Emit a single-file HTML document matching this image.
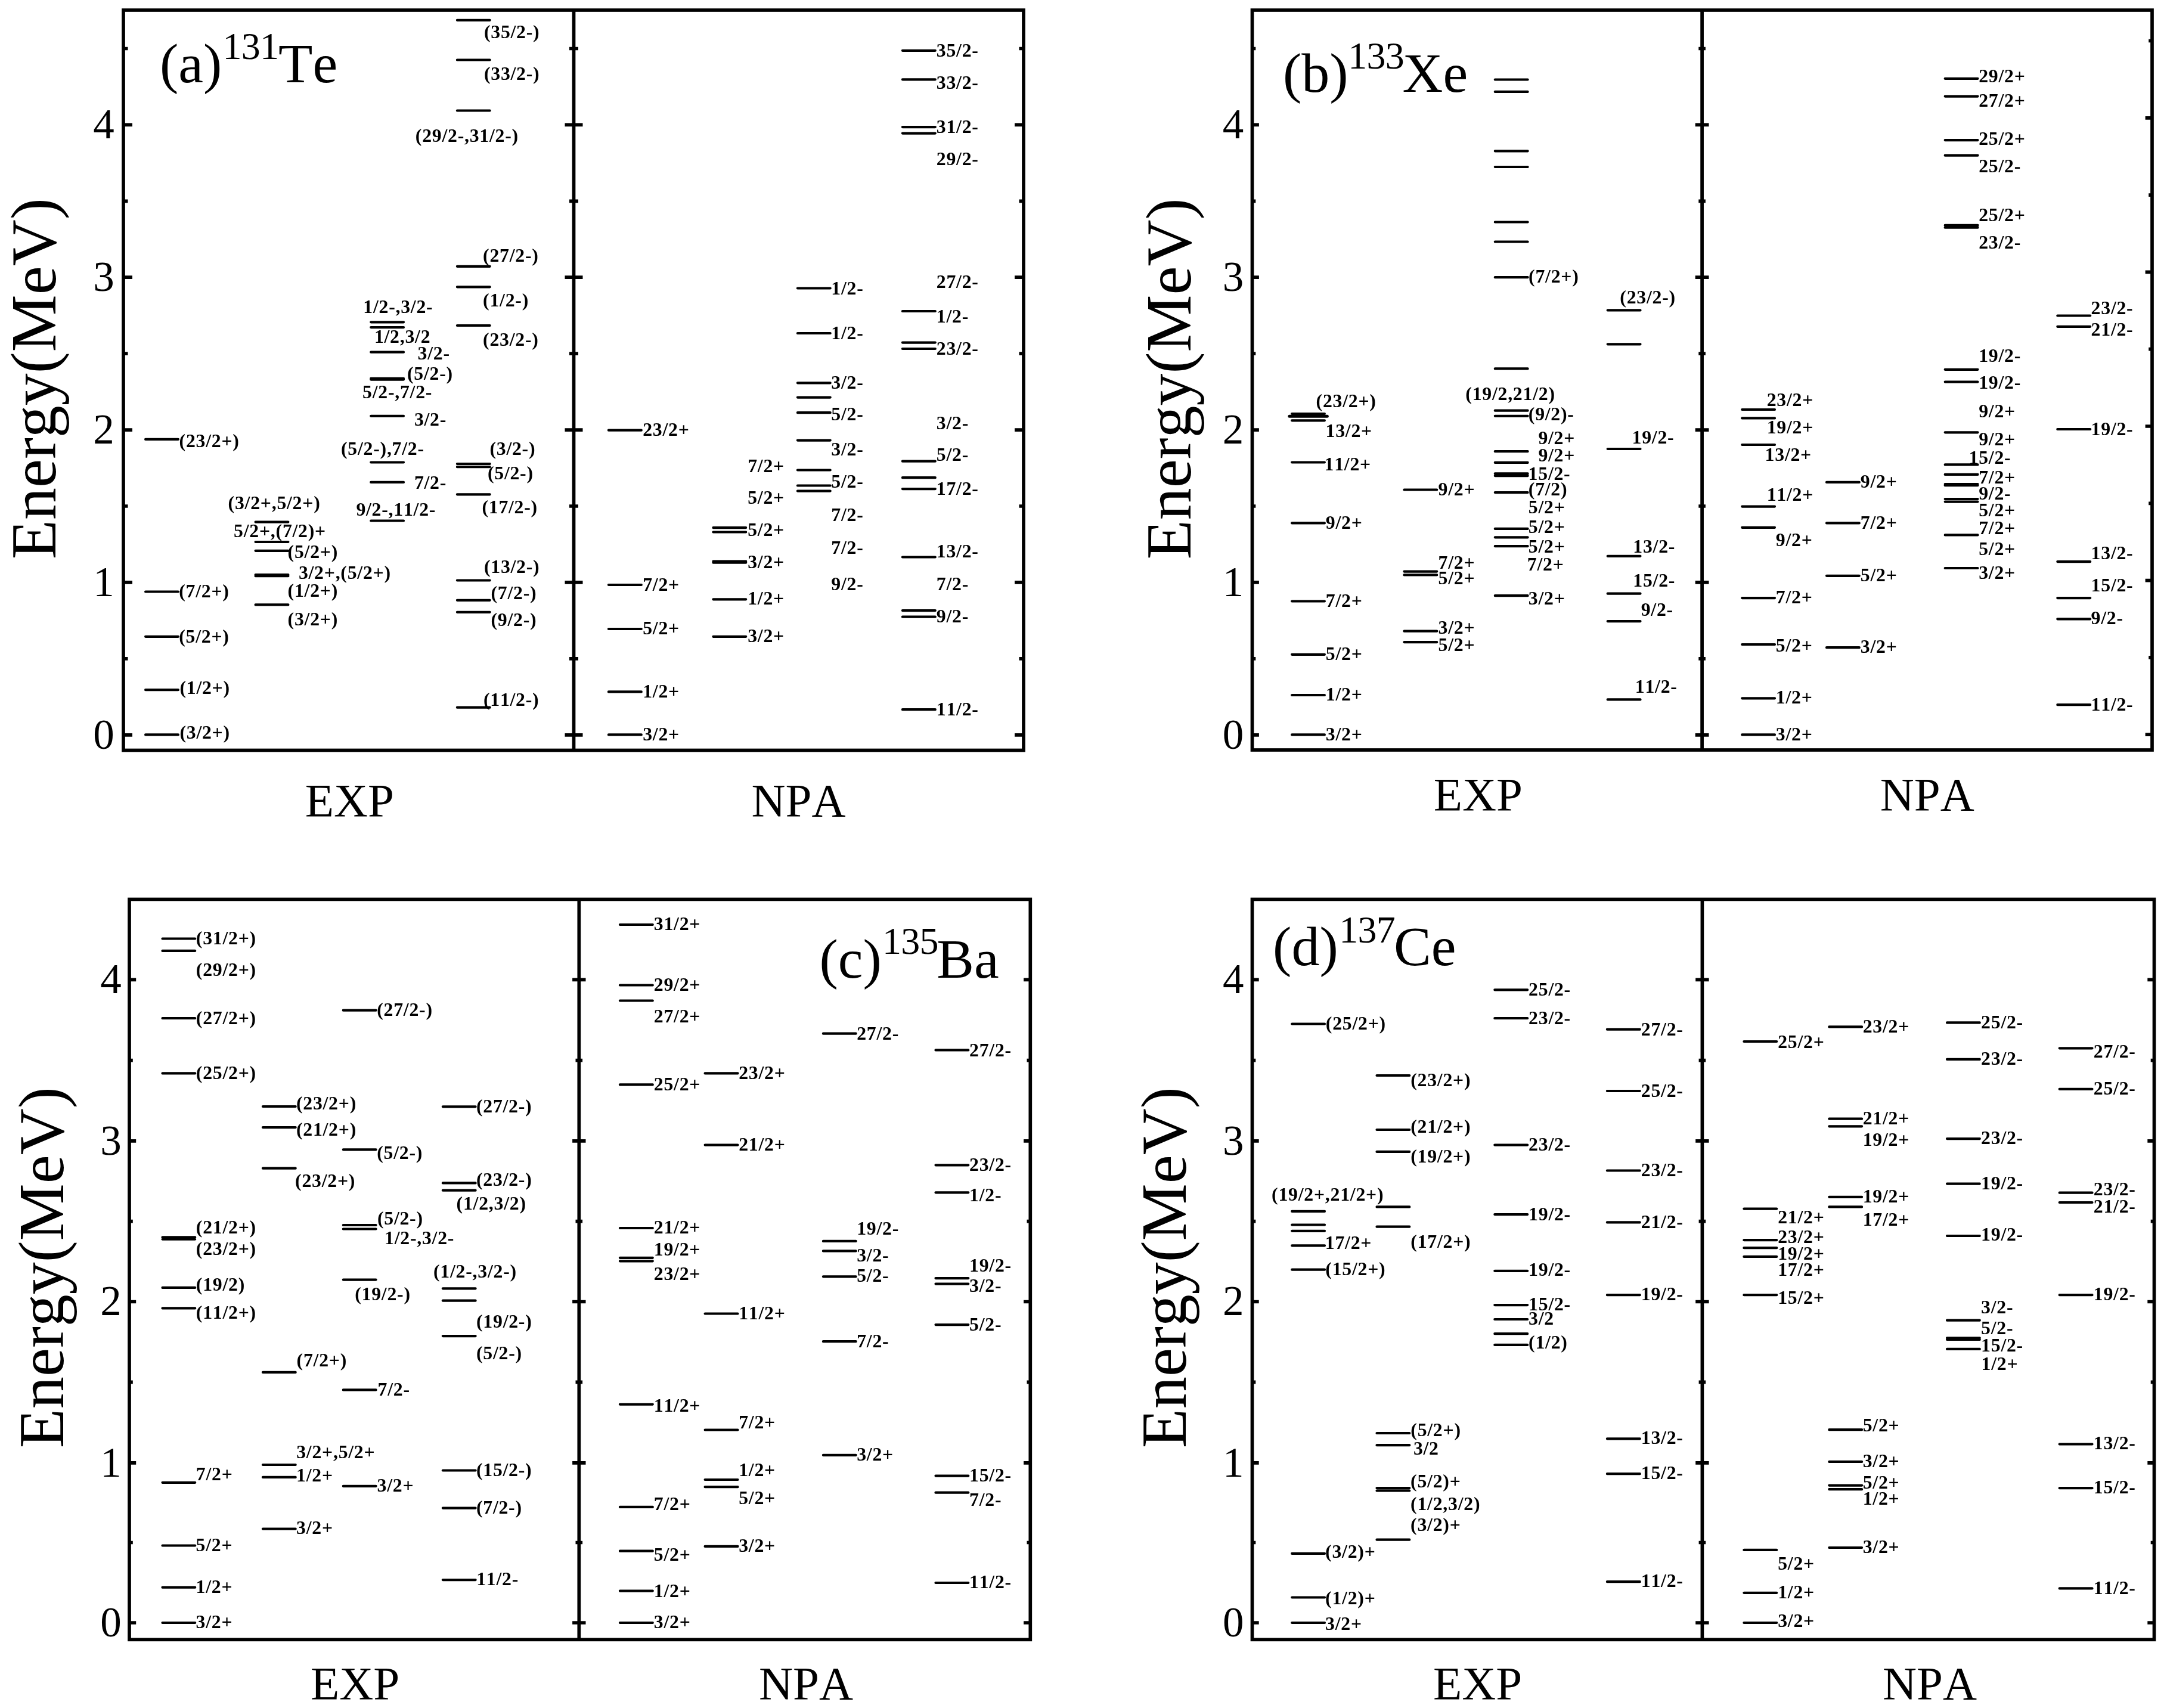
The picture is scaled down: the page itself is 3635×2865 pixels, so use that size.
<!DOCTYPE html>
<html><head><meta charset="utf-8"><title>Energy levels</title>
<style>
html,body{margin:0;padding:0;background:#fff}
svg{display:block}
text{font-family:"Liberation Serif",serif;fill:#000;font-kerning:none;font-variant-ligatures:none}
.fr rect,.fr path{fill:none;stroke:#000;stroke-width:5.7}
.lv{fill:none;stroke:#000;stroke-width:4.2;stroke-linecap:round}
.tl text{font-size:71px;text-anchor:middle}
.lb text{font-size:31.8px;font-weight:bold;letter-spacing:.75px}
.ax text{font-size:79px}
.tt{font-size:94px}
.sp{font-size:64px;letter-spacing:-.8px}
.yl{font-size:108px}
</style></head>
<body>
<svg width="3635" height="2865" viewBox="0 0 3635 2865" style="will-change:transform">
<rect x="0" y="0" width="3635" height="2865" fill="#fff"/>
<g class="fr">
<rect x="207" y="17" width="1510" height="1241.5"/>
<path d="M962.5 17V1258.5"/>
<path d="M207 1232.8h15M947.5 1232.8h30M207 1104.9h7.5M955 1104.9h15M207 976.9h15M947.5 976.9h30M207 849h7.5M955 849h15M207 721.1h15M947.5 721.1h30M207 593.2h7.5M955 593.2h15M207 465.2h15M947.5 465.2h30M207 337.3h7.5M955 337.3h15M207 209.4h15M947.5 209.4h30M207 81.5h7.5M955 81.5h15M1717 1232.8h-15M1717 1104.9h-7.5M1717 976.9h-15M1717 849h-7.5M1717 721.1h-15M1717 593.2h-7.5M1717 465.2h-15M1717 337.3h-7.5M1717 209.4h-15M1717 81.5h-7.5"/>
</g>
<g class="tl">
<text x="174" y="1255.5">0</text>
<text x="174" y="999.6">1</text>
<text x="174" y="743.8">2</text>
<text x="174" y="487.9">3</text>
<text x="174" y="232.1">4</text>
</g>
<path class="lv" d="M244.1 736.9H298.9M244.1 992.5H298.9M244.1 1067.8H298.9M244.1 1157.2H298.9M244.1 1232.4H298.9M428.6 875.6H483.4M428.6 909H483.4M428.6 923.8H483.4M428.6 964.2H483.4M428.6 966.2H483.4M428.6 1014.4H483.4M622.2 540.3H677M622.2 549.1H677M622.2 590.7H677M622.2 634.9H677M622.2 636.6H677M622.2 697.8H677M622.2 775.5H677M622.2 808.9H677M622.2 873.5H677M766.9 33.8H821.7M766.9 100.5H821.7M766.9 185.5H821.7M766.9 446.8H821.7M766.9 481.3H821.7M766.9 546H821.7M766.9 778H821.7M766.9 783.2H821.7M766.9 829.3H821.7M766.9 973.5H821.7M766.9 1006.8H821.7M766.9 1026.8H821.7M766.9 1186.7H821.7M1020.9 721.7H1075.8M1020.9 981H1075.8M1020.9 1055H1075.8M1020.9 1160.4H1075.8M1020.9 1232.4H1075.8M1196.4 885.1H1251.2M1196.4 892.5H1251.2M1196.4 941.5H1251.2M1196.4 943.7H1251.2M1196.4 1005.3H1251.2M1196.4 1067.8H1251.2M1337.9 483.5H1392.7M1337.9 559H1392.7M1337.9 642.3H1392.7M1337.9 666.6H1392.7M1337.9 692.2H1392.7M1337.9 738.6H1392.7M1337.9 788.5H1392.7M1337.9 814.5H1392.7M1337.9 823.6H1392.7M1513.9 84.8H1568.8M1513.9 133.3H1568.8M1513.9 213.1H1568.8M1513.9 223.6H1568.8M1513.9 522H1568.8M1513.9 574.6H1568.8M1513.9 585H1568.8M1513.9 773.7H1568.8M1513.9 801.2H1568.8M1513.9 820.1H1568.8M1513.9 934.5H1568.8M1513.9 1024.1H1568.8M1513.9 1034.7H1568.8M1513.9 1190.2H1568.8"/>
<g class="lb">
<text x="300.6" y="750">(23/2+)</text>
<text x="300.2" y="1002.3">(7/2+)</text>
<text x="300.2" y="1078">(5/2+)</text>
<text x="301.4" y="1164.2">(1/2+)</text>
<text x="301.4" y="1239.1">(3/2+)</text>
<text x="382.6" y="854.2">(3/2+,5/2+)</text>
<text x="392.1" y="900.9">5/2+,(7/2)+</text>
<text x="482.6" y="936">(5/2+)</text>
<text x="500.9" y="970.9">3/2+,(5/2+)</text>
<text x="482.6" y="1000.7">(1/2+)</text>
<text x="482.6" y="1048.5">(3/2+)</text>
<text x="609.3" y="525">1/2-,3/2-</text>
<text x="627.9" y="575">1/2,3/2</text>
<text x="700.5" y="603.4">3/2-</text>
<text x="683" y="637">(5/2-)</text>
<text x="608" y="668">5/2-,7/2-</text>
<text x="694.9" y="713.7">3/2-</text>
<text x="572" y="762.9">(5/2-),7/2-</text>
<text x="694.9" y="820.1">7/2-</text>
<text x="597.4" y="864.8">9/2-,11/2-</text>
<text x="811.9" y="63.8">(35/2-)</text>
<text x="811.9" y="133.9">(33/2-)</text>
<text x="696.8" y="238.4">(29/2-,31/2-)</text>
<text x="810.1" y="439.4">(27/2-)</text>
<text x="810.1" y="513.7">(1/2-)</text>
<text x="810.1" y="579.6">(23/2-)</text>
<text x="821.4" y="762.9">(3/2-)</text>
<text x="817.9" y="804">(5/2-)</text>
<text x="808.4" y="861.2">(17/2-)</text>
<text x="811.9" y="960.7">(13/2-)</text>
<text x="823.5" y="1005.3">(7/2-)</text>
<text x="823.5" y="1049.9">(9/2-)</text>
<text x="810.9" y="1183.9">(11/2-)</text>
<text x="1078.2" y="731.2">23/2+</text>
<text x="1078.2" y="990.5">7/2+</text>
<text x="1078.2" y="1063.8">5/2+</text>
<text x="1078.2" y="1169.5">1/2+</text>
<text x="1078.2" y="1241.5">3/2+</text>
<text x="1254.2" y="792">7/2+</text>
<text x="1254.2" y="845.4">5/2+</text>
<text x="1254.2" y="898.8">5/2+</text>
<text x="1254.2" y="952.6">3/2+</text>
<text x="1254.2" y="1014.1">1/2+</text>
<text x="1254.2" y="1076.6">3/2+</text>
<text x="1394.3" y="493.8">1/2-</text>
<text x="1394.3" y="568.6">1/2-</text>
<text x="1394.3" y="651.5">3/2-</text>
<text x="1394.3" y="704.9">5/2-</text>
<text x="1394.3" y="763.9">3/2-</text>
<text x="1394.3" y="818">5/2-</text>
<text x="1394.3" y="873.5">7/2-</text>
<text x="1394.3" y="928.7">7/2-</text>
<text x="1394.3" y="990">9/2-</text>
<text x="1570.8" y="95">35/2-</text>
<text x="1570.8" y="148.8">33/2-</text>
<text x="1570.8" y="222.6">31/2-</text>
<text x="1570.8" y="277">29/2-</text>
<text x="1570.8" y="483.3">27/2-</text>
<text x="1570.8" y="541">1/2-</text>
<text x="1570.8" y="594.6">23/2-</text>
<text x="1570.8" y="720">3/2-</text>
<text x="1570.8" y="772.7">5/2-</text>
<text x="1570.8" y="829.6">17/2-</text>
<text x="1570.8" y="935.4">13/2-</text>
<text x="1570.8" y="990">7/2-</text>
<text x="1570.8" y="1044.1">9/2-</text>
<text x="1570.8" y="1199.6">11/2-</text>
</g>
<g class="ax">
<text x="511.7" y="1369">EXP</text>
<text x="1260.4" y="1369">NPA</text>
</g>
<text class="tt" x="268" y="138.3">(a)</text>
<text class="sp" x="373.5" y="99">131</text>
<text class="tt" x="467" y="138.3">Te</text>
<text class="yl" transform="translate(93 938) rotate(-90)">Energy(MeV)</text>
<g class="fr">
<rect x="2100.5" y="17" width="1509.5" height="1241"/>
<path d="M2855.1 17V1258"/>
<path d="M2100.5 1232.8h11.4M2843.7 1232.8h22.8M2100.5 1104.9h5.8M2849.3 1104.9h11.6M2100.5 976.9h11.4M2843.7 976.9h22.8M2100.5 849h5.8M2849.3 849h11.6M2100.5 721.1h11.4M2843.7 721.1h22.8M2100.5 593.2h5.8M2849.3 593.2h11.6M2100.5 465.2h11.4M2843.7 465.2h22.8M2100.5 337.3h5.8M2849.3 337.3h11.6M2100.5 209.4h11.4M2843.7 209.4h22.8M2100.5 81.5h5.8M2849.3 81.5h11.6M3610 1232.2h-11.4M3610 1102.9h-5.8M3610 973.6h-11.4M3610 844.3h-5.8M3610 715h-11.4M3610 585.7h-5.8M3610 456.4h-11.4M3610 327.1h-5.8M3610 197.8h-11.4M3610 68.5h-5.8"/>
</g>
<g class="tl">
<text x="2068.6" y="1255.5">0</text>
<text x="2068.6" y="999.6">1</text>
<text x="2068.6" y="743.8">2</text>
<text x="2068.6" y="487.9">3</text>
<text x="2068.6" y="232.1">4</text>
</g>
<path class="lv" d="M2167.1 694H2221.9M2167.1 705.3H2221.9M2167.1 775.5H2221.9M2167.1 877.4H2221.9M2167.1 1008.5H2221.9M2167.1 1097.8H2221.9M2167.1 1166H2221.9M2167.1 1232.4H2221.9M2355.4 821.5H2410.2M2355.4 958.6H2410.2M2355.4 964.4H2410.2M2355.4 1058.7H2410.2M2355.4 1077.2H2410.2M2507.8 133.5H2562.6M2507.8 153.9H2562.6M2507.8 253.3H2562.6M2507.8 280H2562.6M2507.8 372.5H2562.6M2507.8 405.5H2562.6M2507.8 465.2H2562.6M2507.8 618.4H2562.6M2507.8 688.7H2562.6M2507.8 697.8H2562.6M2507.8 757.2H2562.6M2507.8 775.9H2562.6M2507.8 794.4H2562.6M2507.8 798.1H2562.6M2507.8 826.1H2562.6M2507.8 886.9H2562.6M2507.8 901.3H2562.6M2507.8 916.2H2562.6M2507.8 999.2H2562.6M2696.7 520.4H2751.5M2696.7 577.3H2751.5M2696.7 753H2751.5M2696.7 932.8H2751.5M2696.7 995.7H2751.5M2696.7 1042.1H2751.5M2696.7 1173.4H2751.5M2922.2 687H2977M2922.2 701.4H2977M2922.2 746H2977M2922.2 849.6H2977M2922.2 884.8H2977M2922.2 1003.1H2977M2922.2 1081H2977M2922.2 1171.3H2977M2922.2 1232.4H2977M3064 808.9H3118.8M3064 877.4H3118.8M3064 965.8H3118.8M3064 1086.2H3118.8M3262.7 131.8H3317.5M3262.7 161.6H3317.5M3262.7 235.1H3317.5M3262.7 260.7H3317.5M3262.7 377.9H3317.5M3262.7 381.7H3317.5M3262.7 619.8H3317.5M3262.7 640.6H3317.5M3262.7 725.3H3317.5M3262.7 779.4H3317.5M3262.7 795.9H3317.5M3262.7 812H3317.5M3262.7 814.2H3317.5M3262.7 837H3317.5M3262.7 841.6H3317.5M3262.7 897.4H3317.5M3262.7 953H3317.5M3451.3 529.5H3506.2M3451.3 547.8H3506.2M3451.3 720H3506.2M3451.3 942.1H3506.2M3451.3 1003.1H3506.2M3451.3 1038.3H3506.2M3451.3 1182.2H3506.2"/>
<path class="lv" style="stroke-width:5" d="M2162.9 698.3H2226.3"/>
<g class="lb">
<text x="2207.6" y="683.3">(23/2+)</text>
<text x="2223.5" y="733.2">13/2+</text>
<text x="2221.5" y="788.7">11/2+</text>
<text x="2223.8" y="886.9">9/2+</text>
<text x="2223.8" y="1018">7/2+</text>
<text x="2223.8" y="1106.6">5/2+</text>
<text x="2223.8" y="1175.1">1/2+</text>
<text x="2223.8" y="1241.5">3/2+</text>
<text x="2412.6" y="830.7">9/2+</text>
<text x="2412.6" y="954">7/2+</text>
<text x="2412.6" y="980.4">5/2+</text>
<text x="2412.6" y="1062.5">3/2+</text>
<text x="2412.6" y="1091.5">5/2+</text>
<text x="2564.1" y="474.3">(7/2+)</text>
<text x="2458.3" y="670.8">(19/2,21/2)</text>
<text x="2563.8" y="704.9">(9/2)-</text>
<text x="2580.4" y="745.3">9/2+</text>
<text x="2580.4" y="774.4">9/2+</text>
<text x="2563.6" y="805">15/2-</text>
<text x="2563.8" y="831">(7/2)</text>
<text x="2563.8" y="860.5">5/2+</text>
<text x="2563.8" y="893.9">5/2+</text>
<text x="2563.8" y="926.7">5/2+</text>
<text x="2561.8" y="956.5">7/2+</text>
<text x="2563.8" y="1014.1">3/2+</text>
<text x="2717.3" y="509.3">(23/2-)</text>
<text x="2737.5" y="744.2">19/2-</text>
<text x="2739.3" y="927">13/2-</text>
<text x="2739.3" y="984.3">15/2-</text>
<text x="2752.7" y="1032.5">9/2-</text>
<text x="2742.8" y="1161.8">11/2-</text>
<text x="2963.7" y="681">23/2+</text>
<text x="2963.7" y="727">19/2+</text>
<text x="2960.6" y="773.4">13/2+</text>
<text x="2963.7" y="839.5">11/2+</text>
<text x="2978.8" y="915.7">9/2+</text>
<text x="2978.8" y="1012.4">7/2+</text>
<text x="2978.8" y="1093.3">5/2+</text>
<text x="2978.8" y="1180.4">1/2+</text>
<text x="2978.8" y="1241.5">3/2+</text>
<text x="3120.8" y="818">9/2+</text>
<text x="3120.8" y="886.5">7/2+</text>
<text x="3120.8" y="975.1">5/2+</text>
<text x="3120.8" y="1095">3/2+</text>
<text x="3319.2" y="137.7">29/2+</text>
<text x="3319.2" y="178.5">27/2+</text>
<text x="3319.2" y="243.1">25/2+</text>
<text x="3319.2" y="289.2">25/2-</text>
<text x="3319.2" y="370.7">25/2+</text>
<text x="3319.2" y="417.1">23/2-</text>
<text x="3319.2" y="606.5">19/2-</text>
<text x="3319.2" y="652.2">19/2-</text>
<text x="3319.2" y="699.6">9/2+</text>
<text x="3319.2" y="747">9/2+</text>
<text x="3302.5" y="778">15/2-</text>
<text x="3319.2" y="811.3">7/2+</text>
<text x="3319.2" y="838.4">9/2-</text>
<text x="3319.2" y="865.8">5/2+</text>
<text x="3319.2" y="895.7">7/2+</text>
<text x="3319.2" y="930.7">5/2+</text>
<text x="3319.2" y="971.1">3/2+</text>
<text x="3507.6" y="527.4">23/2-</text>
<text x="3507.6" y="563.3">21/2-</text>
<text x="3507.6" y="729.5">19/2-</text>
<text x="3507.6" y="938">13/2-</text>
<text x="3507.6" y="992.2">15/2-</text>
<text x="3507.6" y="1047.2">9/2-</text>
<text x="3507.6" y="1191.6">11/2-</text>
</g>
<g class="ax">
<text x="2404.7" y="1359.2">EXP</text>
<text x="3153.8" y="1359.2">NPA</text>
</g>
<text class="tt" x="2151.9" y="153.6">(b)</text>
<text class="sp" x="2261.3" y="114.9">133</text>
<text class="tt" x="2352.5" y="153.6">Xe</text>
<text class="yl" transform="translate(1997 938.3) rotate(-90)">Energy(MeV)</text>
<g class="fr">
<rect x="217" y="1508.5" width="1511.3" height="1241.8"/>
<path d="M971.3 1508.5V2750.3"/>
<path d="M217 2722h11.2M960.1 2722h22.4M217 2587.5h5.8M965.5 2587.5h11.6M217 2453.8h11.2M960.1 2453.8h22.4M217 2318.4h5.8M965.5 2318.4h11.6M217 2183.5h11.2M960.1 2183.5h22.4M217 2048.6h5.8M965.5 2048.6h11.6M217 1913.8h11.2M960.1 1913.8h22.4M217 1778.7h5.8M965.5 1778.7h11.6M217 1643.4h11.2M960.1 1643.4h22.4M1728.3 2722h-11.2M1728.3 2587.5h-5.8M1728.3 2453.8h-11.2M1728.3 2318.4h-5.8M1728.3 2183.5h-11.2M1728.3 2048.6h-5.8M1728.3 1913.8h-11.2M1728.3 1778.7h-5.8M1728.3 1643.4h-11.2"/>
</g>
<g class="tl">
<text x="185.9" y="2744.7">0</text>
<text x="185.9" y="2476.5">1</text>
<text x="185.9" y="2206.2">2</text>
<text x="185.9" y="1936.5">3</text>
<text x="185.9" y="1666.1">4</text>
</g>
<path class="lv" d="M272.5 1574.5H327.2M272.5 1594.9H327.2M272.5 1708H327.2M272.5 1800.4H327.2M272.5 2075.4H327.2M272.5 2078.6H327.2M272.5 2159.9H327.2M272.5 2194.4H327.2M272.5 2486.8H327.2M272.5 2592.5H327.2M272.5 2662.7H327.2M272.5 2722H327.2M440.9 1856H495.7M440.9 1891.1H495.7M440.9 1959.7H495.7M440.9 2301.9H495.7M440.9 2457H495.7M440.9 2477.9H495.7M440.9 2564.5H495.7M575.8 1694.7H630.6M575.8 1928.3H630.6M575.8 2055H630.6M575.8 2061.5H630.6M575.8 2146.6H630.6M575.8 2331.4H630.6M575.8 2492.8H630.6M742.8 1856.3H797.6M742.8 1984.4H797.6M742.8 1996.7H797.6M742.8 2161.3H797.6M742.8 2181.7H797.6M742.8 2241.1H797.6M742.8 2466.5H797.6M742.8 2529.6H797.6M742.8 2650.1H797.6M1039.9 1551H1094.8M1039.9 1652.5H1094.8M1039.9 1678.5H1094.8M1039.9 1819.4H1094.8M1039.9 2060H1094.8M1039.9 2109.8H1094.8M1039.9 2115.3H1094.8M1039.9 2355.6H1094.8M1039.9 2527.9H1094.8M1039.9 2601.7H1094.8M1039.9 2668.6H1094.8M1039.9 2722H1094.8M1182.6 1800.4H1237.5M1182.6 1920.6H1237.5M1182.6 2203.5H1237.5M1182.6 2398.5H1237.5M1182.6 2482H1237.5M1182.6 2494.2H1237.5M1182.6 2593.9H1237.5M1380.9 1733.7H1435.7M1380.9 2081.9H1435.7M1380.9 2098.4H1435.7M1380.9 2141.3H1435.7M1380.9 2250.2H1435.7M1380.9 2440.8H1435.7M1569.5 1761.4H1624.3M1569.5 1954.3H1624.3M1569.5 2000.3H1624.3M1569.5 2144.1H1624.3M1569.5 2153.6H1624.3M1569.5 2222.1H1624.3M1569.5 2475.6H1624.3M1569.5 2503.7H1624.3M1569.5 2655H1624.3"/>
<g class="lb">
<text x="328.8" y="1584">(31/2+)</text>
<text x="328.8" y="1637.4">(29/2+)</text>
<text x="328.8" y="1717.5">(27/2+)</text>
<text x="328.8" y="1809.6">(25/2+)</text>
<text x="328.8" y="2069">(21/2+)</text>
<text x="328.8" y="2104.8">(23/2+)</text>
<text x="328.8" y="2164.5">(19/2)</text>
<text x="328.8" y="2211.9">(11/2+)</text>
<text x="328.8" y="2483.2">7/2+</text>
<text x="328.6" y="2601.7">5/2+</text>
<text x="328.6" y="2671.8">1/2+</text>
<text x="328.6" y="2730.7">3/2+</text>
<text x="496.9" y="1860.5">(23/2+)</text>
<text x="496.9" y="1904.5">(21/2+)</text>
<text x="495.1" y="1991.4">(23/2+)</text>
<text x="497.6" y="2292">(7/2+)</text>
<text x="497.2" y="2445.8">3/2+,5/2+</text>
<text x="497.1" y="2484.7">1/2+</text>
<text x="497.1" y="2572.9">3/2+</text>
<text x="632.2" y="1704.2">(27/2-)</text>
<text x="632.2" y="1943.8">(5/2-)</text>
<text x="632.9" y="2053.8">(5/2-)</text>
<text x="645" y="2087.2">1/2-,3/2-</text>
<text x="595.2" y="2181.4">(19/2-)</text>
<text x="633.5" y="2340.5">7/2-</text>
<text x="632.5" y="2501.6">3/2+</text>
<text x="798.9" y="1865.8">(27/2-)</text>
<text x="799" y="1989.2">(23/2-)</text>
<text x="765.6" y="2029.2">(1/2,3/2)</text>
<text x="727" y="2142.7">(1/2-,3/2-)</text>
<text x="799" y="2227">(19/2-)</text>
<text x="799" y="2280.4">(5/2-)</text>
<text x="798.9" y="2475.6">(15/2-)</text>
<text x="798.9" y="2539.2">(7/2-)</text>
<text x="799.2" y="2658.8">11/2-</text>
<text x="1096.8" y="1560.1">31/2+</text>
<text x="1096.8" y="1662">29/2+</text>
<text x="1096.8" y="1714.7">27/2+</text>
<text x="1096.8" y="1828.6">25/2+</text>
<text x="1096.8" y="2069.2">21/2+</text>
<text x="1096.8" y="2106.2">19/2+</text>
<text x="1096.8" y="2147.1">23/2+</text>
<text x="1096.8" y="2368.3">11/2+</text>
<text x="1096.8" y="2533.4">7/2+</text>
<text x="1096.8" y="2618.1">5/2+</text>
<text x="1096.8" y="2678.8">1/2+</text>
<text x="1096.8" y="2730.7">3/2+</text>
<text x="1239.2" y="1810.3">23/2+</text>
<text x="1239.2" y="1930.1">21/2+</text>
<text x="1239.2" y="2213">11/2+</text>
<text x="1239.2" y="2395.7">7/2+</text>
<text x="1239.2" y="2475.5">1/2+</text>
<text x="1239.2" y="2523.3">5/2+</text>
<text x="1239.2" y="2603.4">3/2+</text>
<text x="1437.2" y="1743.5">27/2-</text>
<text x="1437.2" y="2070.8">19/2-</text>
<text x="1437.2" y="2116.4">3/2-</text>
<text x="1437.2" y="2150.4">5/2-</text>
<text x="1437.2" y="2259.7">7/2-</text>
<text x="1437.2" y="2449.6">3/2+</text>
<text x="1626" y="1771.6">27/2-</text>
<text x="1626" y="1964.2">23/2-</text>
<text x="1626" y="2015">1/2-</text>
<text x="1626" y="2133.2">19/2-</text>
<text x="1626" y="2167.3">3/2-</text>
<text x="1626" y="2231.6">5/2-</text>
<text x="1626" y="2485">15/2-</text>
<text x="1626" y="2526.3">7/2-</text>
<text x="1626" y="2663.7">11/2-</text>
</g>
<g class="ax">
<text x="521" y="2849.6">EXP</text>
<text x="1272.9" y="2849.6">NPA</text>
</g>
<text class="tt" x="1374.5" y="1639.5">(c)</text>
<text class="sp" x="1480" y="1600.4">135</text>
<text class="tt" x="1571.3" y="1639.5">Ba</text>
<text class="yl" transform="translate(105.9 2429) rotate(-90)">Energy(MeV)</text>
<g class="fr">
<rect x="2100.5" y="1508.5" width="1513" height="1241.8"/>
<path d="M2855.4 1508.5V2750.3"/>
<path d="M2100.5 2722h11.2M2844.2 2722h22.4M2100.5 2587.5h5.8M2849.6 2587.5h11.6M2100.5 2453.8h11.2M2844.2 2453.8h22.4M2100.5 2318.4h5.8M2849.6 2318.4h11.6M2100.5 2183.5h11.2M2844.2 2183.5h22.4M2100.5 2048.6h5.8M2849.6 2048.6h11.6M2100.5 1913.8h11.2M2844.2 1913.8h22.4M2100.5 1778.7h5.8M2849.6 1778.7h11.6M2100.5 1643.4h11.2M2844.2 1643.4h22.4M3613.5 2722h-11.2M3613.5 2587.5h-5.8M3613.5 2453.8h-11.2M3613.5 2318.4h-5.8M3613.5 2183.5h-11.2M3613.5 2048.6h-5.8M3613.5 1913.8h-11.2M3613.5 1778.7h-5.8M3613.5 1643.4h-11.2"/>
</g>
<g class="tl">
<text x="2068.8" y="2744.7">0</text>
<text x="2068.8" y="2476.5">1</text>
<text x="2068.8" y="2206.2">2</text>
<text x="2068.8" y="1936.5">3</text>
<text x="2068.8" y="1666.1">4</text>
</g>
<path class="lv" d="M2167.2 1717.5H2222M2167.2 2031.8H2222M2167.2 2054.5H2222M2167.2 2064.8H2222M2167.2 2089.3H2222M2167.2 2129.7H2222M2167.2 2605.9H2222M2167.2 2679.5H2222M2167.2 2722H2222M2309.5 1804H2364.3M2309.5 1895H2364.3M2309.5 1931.9H2364.3M2309.5 2024.4H2364.3M2309.5 2057.7H2364.3M2309.5 2404H2364.3M2309.5 2424.2H2364.3M2309.5 2496.1H2364.3M2309.5 2500.5H2364.3M2309.5 2582.7H2364.3M2507.3 1660.3H2562.2M2507.3 1708H2562.2M2507.3 1920.6H2562.2M2507.3 2037.1H2562.2M2507.3 2131.8H2562.2M2507.3 2189.1H2562.2M2507.3 2213H2562.2M2507.3 2237.2H2562.2M2507.3 2255.9H2562.2M2695.9 1726.7H2750.8M2695.9 1830H2750.8M2695.9 1963.5H2750.8M2695.9 2050.4H2750.8M2695.9 2172.2H2750.8M2695.9 2413.3H2750.8M2695.9 2472.2H2750.8M2695.9 2653.2H2750.8M2925.4 1747H2980.2M2925.4 2027.6H2980.2M2925.4 2080.2H2980.2M2925.4 2093.2H2980.2M2925.4 2107.9H2980.2M2925.4 2172.2H2980.2M2925.4 2599.9H2980.2M2925.4 2671.8H2980.2M2925.4 2722H2980.2M3068.3 1722.4H3123.1M3068.3 1876.7H3123.1M3068.3 1889.3H3123.1M3068.3 2007.8H3123.1M3068.3 2024.4H3123.1M3068.3 2398.2H3123.1M3068.3 2451.9H3123.1M3068.3 2491.6H3123.1M3068.3 2498.2H3123.1M3068.3 2596H3123.1M3266 1715.4H3320.8M3266 1776.9H3320.8M3266 1910.1H3320.8M3266 1985.6H3320.8M3266 2073H3320.8M3266 2214.7H3320.8M3266 2244.3H3320.8M3266 2247H3320.8M3266 2262.9H3320.8M3454.7 1758.3H3509.5M3454.7 1826.8H3509.5M3454.7 2000.7H3509.5M3454.7 2017H3509.5M3454.7 2172.2H3509.5M3454.7 2422.4H3509.5M3454.7 2496.2H3509.5M3454.7 2664.4H3509.5"/>
<g class="lb">
<text x="2223.8" y="1727">(25/2+)</text>
<text x="2133.1" y="2013.7">(19/2+,21/2+)</text>
<text x="2222.8" y="2094.6">17/2+</text>
<text x="2223.3" y="2139.2">(15/2+)</text>
<text x="2223.1" y="2613.2">(3/2)+</text>
<text x="2223.1" y="2691.1">(1/2)+</text>
<text x="2223.1" y="2734.2">3/2+</text>
<text x="2366.2" y="1821.5">(23/2+)</text>
<text x="2366.2" y="1899.9">(21/2+)</text>
<text x="2366.2" y="1949.8">(19/2+)</text>
<text x="2366.3" y="2092.8">(17/2+)</text>
<text x="2366.3" y="2408.7">(5/2+)</text>
<text x="2370.9" y="2439.6">3/2</text>
<text x="2366.1" y="2495.2">(5/2)+</text>
<text x="2366.1" y="2532.6">(1/2,3/2)</text>
<text x="2366.1" y="2567.6">(3/2)+</text>
<text x="2564.1" y="1669.7">25/2-</text>
<text x="2564.1" y="1717.5">23/2-</text>
<text x="2564.1" y="1930.1">23/2-</text>
<text x="2564.1" y="2047.4">19/2-</text>
<text x="2564.1" y="2140.3">19/2-</text>
<text x="2564.1" y="2198.2">15/2-</text>
<text x="2564.1" y="2221.8">3/2</text>
<text x="2564.1" y="2262.2">(1/2)</text>
<text x="2752.8" y="1736.5">27/2-</text>
<text x="2752.8" y="1839.5">25/2-</text>
<text x="2752.8" y="1973.2">23/2-</text>
<text x="2752.8" y="2059.6">21/2-</text>
<text x="2752.8" y="2181.4">19/2-</text>
<text x="2752.8" y="2422.2">13/2-</text>
<text x="2752.8" y="2481.2">15/2-</text>
<text x="2752.8" y="2662.3">11/2-</text>
<text x="2982.2" y="1757.6">25/2+</text>
<text x="2982.2" y="2052">21/2+</text>
<text x="2982.2" y="2084.7">23/2+</text>
<text x="2982.2" y="2112.8">19/2+</text>
<text x="2982.2" y="2140.3">17/2+</text>
<text x="2982.2" y="2186.6">15/2+</text>
<text x="2982.2" y="2632.5">5/2+</text>
<text x="2982.2" y="2681.3">1/2+</text>
<text x="2982.2" y="2729">3/2+</text>
<text x="3124.7" y="1731.9">23/2+</text>
<text x="3124.7" y="1885.8">21/2+</text>
<text x="3124.7" y="1922">19/2+</text>
<text x="3124.7" y="2016.5">19/2+</text>
<text x="3124.7" y="2055.5">17/2+</text>
<text x="3124.7" y="2401">5/2+</text>
<text x="3124.7" y="2460.7">3/2+</text>
<text x="3124.7" y="2497.2">5/2+</text>
<text x="3124.7" y="2523.7">1/2+</text>
<text x="3124.7" y="2605.2">3/2+</text>
<text x="3323.1" y="1724.9">25/2-</text>
<text x="3323.1" y="1786.4">23/2-</text>
<text x="3323.1" y="1919.2">23/2-</text>
<text x="3323.1" y="1994.7">19/2-</text>
<text x="3323.1" y="2081.3">19/2-</text>
<text x="3323.1" y="2203.1">3/2-</text>
<text x="3323.1" y="2237.6">5/2-</text>
<text x="3323.1" y="2267.4">15/2-</text>
<text x="3323.6" y="2298">1/2+</text>
<text x="3511.8" y="1774.4">27/2-</text>
<text x="3511.8" y="1835.9">25/2-</text>
<text x="3511.8" y="2004.6">23/2-</text>
<text x="3511.8" y="2033.6">21/2-</text>
<text x="3511.8" y="2181.4">19/2-</text>
<text x="3511.8" y="2431.2">13/2-</text>
<text x="3511.8" y="2505.2">15/2-</text>
<text x="3511.8" y="2673.6">11/2-</text>
</g>
<g class="ax">
<text x="2403.9" y="2849.6">EXP</text>
<text x="3158" y="2849.6">NPA</text>
</g>
<text class="tt" x="2135.1" y="1619">(d)</text>
<text class="sp" x="2246.3" y="1580.9">137</text>
<text class="tt" x="2338.1" y="1619">Ce</text>
<text class="yl" transform="translate(1989.2 2429) rotate(-90)">Energy(MeV)</text>
</svg>
</body></html>
